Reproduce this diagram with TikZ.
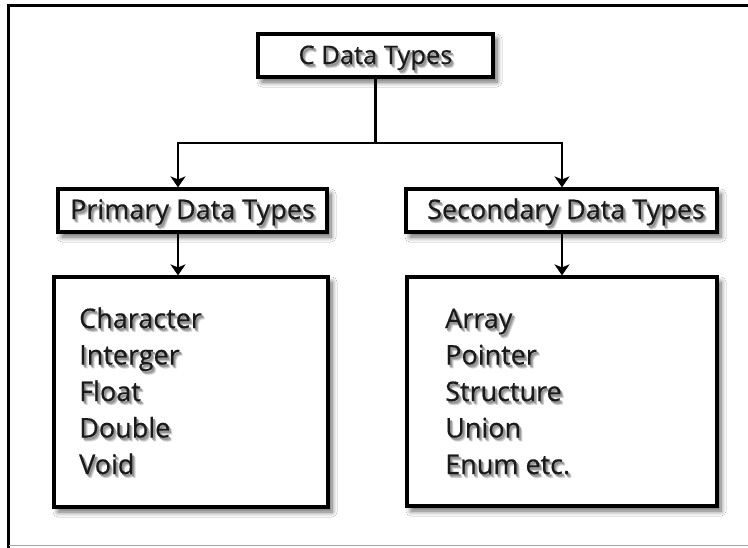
\documentclass[tikz,border=0pt]{standalone}
\usepackage{fontspec}
\setmainfont{Open Sans}[FakeBold=0.4]
\usetikzlibrary{arrows.meta,shadows.blur}
\definecolor{ink}{HTML}{1A1A1A}
\newcommand\shd[1]{\makebox[0pt][l]{\hspace{3.2pt}\raisebox{-3.8pt}{\textcolor{black!16}{#1}}}\makebox[0pt][l]{\hspace{2.5pt}\raisebox{-3pt}{\textcolor{black!28}{#1}}}\makebox[0pt][l]{\hspace{1.7pt}\raisebox{-2.1pt}{\textcolor{black!42}{#1}}}#1}
\tikzset{
  boxframe/.style={draw=black, line width=3.2pt, fill=white, inner sep=0pt,
    blur shadow={shadow xshift=4pt, shadow yshift=-5pt, shadow blur steps=8, shadow blur radius=5pt, shadow opacity=60}},
  boxtext/.style={text=ink, inner sep=0pt, anchor=base},
  listtext/.style={text=ink, inner sep=0pt, anchor=base west, font=\fontsize{27}{27}\selectfont},
  conn/.style={line width=2.8pt, draw=black},
  arr/.style={conn, -{Stealth[length=11pt,width=15pt,inset=3pt]}},
}
\begin{document}
\begin{tikzpicture}[x=1pt,y=-1pt]
\useasboundingbox (0,0) rectangle (748,547);
\fill[white] (0,0) rectangle (748,547);
% outer frame
\draw[line width=3pt, line cap=rect] (8.5,547) -- (8.5,5.5) -- (748,5.5);
\draw[black!35, line width=1pt] (8.5,545) -- (748,545);
% boxes
\node[boxframe, minimum width=235pt, minimum height=43pt] (top) at (375.5,55.5) {};
\node[boxframe, minimum width=269pt, minimum height=43pt] (prim) at (192.5,210.5) {};
\node[boxframe, minimum width=311pt, minimum height=43pt] (sec) at (561.5,210.5) {};
\node[boxframe, minimum width=274pt, minimum height=230pt] (plist) at (191,392) {};
\node[boxframe, minimum width=310pt, minimum height=229pt] (slist) at (562,391.5) {};
% box titles
\node[boxtext, font=\fontsize{25.5}{25.5}\selectfont] (topt) at (375.5,64) {\shd{C Data Types}};
\node[boxtext, font=\fontsize{27}{27}\selectfont] (primt) at (192.5,219) {\shd{Primary Data Types}};
\node[boxtext, font=\fontsize{27}{27}\selectfont] (sect) at (566,219) {\shd{Secondary Data Types}};
% lists
\foreach \t [count=\i] in {Character,Interger,Float,Double,Void}
  \node[listtext] (p\i) at (79,{328+36.5*(\i-1)}) {\shd{\t}};
\foreach \t [count=\i] in {Array,Pointer,Structure,Union,Enum etc.}
  \node[listtext] (s\i) at (445,{328+36.5*(\i-1)}) {\shd{\t}};
% connectors
\coordinate (lj) at (178,143);
\coordinate (rj) at (562,143);
\draw[conn] (top.south) -- (top.south |- lj);
\draw[arr] (top.south |- lj) -- (lj) -- (lj |- prim.north);
\draw[arr] (top.south |- lj) -- (rj) -- (rj |- sec.north);
\draw[arr] (lj |- prim.south) -- (lj |- plist.north);
\draw[arr] (rj |- sec.south) -- (rj |- slist.north);
\end{tikzpicture}
\end{document}
